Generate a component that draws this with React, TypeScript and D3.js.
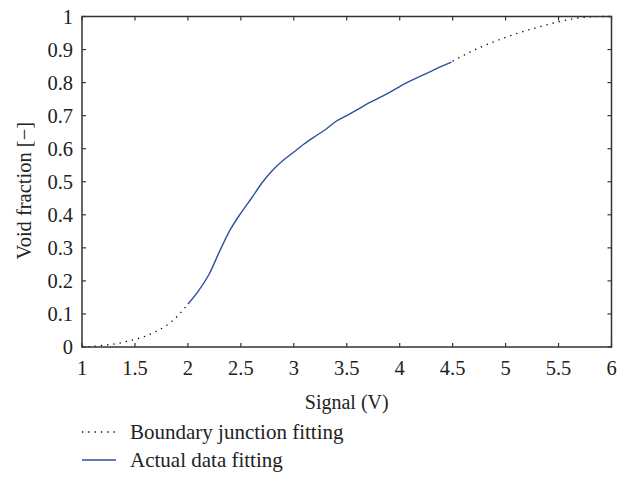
import * as d3 from 'd3';

// boundary junction fitting (dotted), low end and high end
const lowX = [1.0, 1.1, 1.2, 1.3, 1.4, 1.5, 1.6, 1.7, 1.8, 1.9, 2.0];
const lowY = [0.0, 0.002, 0.005, 0.009, 0.015, 0.023, 0.033, 0.047, 0.066, 0.093, 0.13];
const highX = [4.5, 4.6, 4.7, 4.8, 4.9, 5.0, 5.1, 5.2, 5.3, 5.4, 5.5, 5.6, 5.7, 5.8, 5.9, 6.0];
const highY = [0.865, 0.882, 0.898, 0.912, 0.925, 0.937, 0.948, 0.958, 0.967, 0.976, 0.984, 0.991, 0.996, 0.999, 1.0, 1.0];

// actual data fitting (blue)
const actX = [2.0, 2.1, 2.2, 2.3, 2.4, 2.5, 2.6, 2.7, 2.8, 2.9, 3.0, 3.1, 3.2, 3.3, 3.4, 3.5, 3.6, 3.7, 3.8, 3.9, 4.0, 4.1, 4.2, 4.3, 4.4, 4.49];
const actY = [0.13, 0.17, 0.22, 0.29, 0.355, 0.405, 0.45, 0.497, 0.535, 0.565, 0.59, 0.615, 0.637, 0.658, 0.683, 0.7, 0.718, 0.737, 0.753, 0.77, 0.788, 0.805, 0.82, 0.835, 0.85, 0.862];

const xTicks = [1, 1.5, 2, 2.5, 3, 3.5, 4, 4.5, 5, 5.5, 6];
const yTicks = [0, 0.1, 0.2, 0.3, 0.4, 0.5, 0.6, 0.7, 0.8, 0.9, 1];

const W = 632, H = 483;
const L = 82, R = 611.5, T = 16.5, B = 347;
const font = 'Liberation Serif, DejaVu Serif, serif';
const axisColor = '#333';
const blue = '#2e4fa3';

export default function App() {
  const x = d3.scaleLinear().domain([1, 6]).range([L, R]);
  const y = d3.scaleLinear().domain([0, 1]).range([B, T]);
  const line = d3.line<[number, number]>().x(d => x(d[0])).y(d => y(d[1])).curve(d3.curveMonotoneX);
  const zip = (a: number[], b: number[]) => a.map((v, i) => [v, b[i]] as [number, number]);
  const tl = 4;
  const txt = { fontFamily: font, fill: '#222' };

  return (
    <svg width={W} height={H} style={{ position: 'absolute', left: 0, top: 0 }}>
      <rect width={W} height={H} fill="white" />
      <path d={line(zip(lowX, lowY)) || ''} fill="none" stroke="#000" strokeWidth={1.3} strokeDasharray="1.3,5" />
      <path d={line(zip(highX, highY)) || ''} fill="none" stroke="#000" strokeWidth={1.3} strokeDasharray="1.3,5" />
      <path d={line(zip(actX, actY)) || ''} fill="none" stroke={blue} strokeWidth={1.4} />

      {/* frame */}
      <rect x={L} y={T} width={R - L} height={B - T} fill="none" stroke={axisColor} strokeWidth={1.5} />
      {xTicks.map(t => (
        <g key={'x' + t}>
          <line x1={x(t)} x2={x(t)} y1={B} y2={B - tl} stroke={axisColor} strokeWidth={1.2} />
          <line x1={x(t)} x2={x(t)} y1={T} y2={T + tl} stroke={axisColor} strokeWidth={1.2} />
          <text x={x(t)} y={B + 28} textAnchor="middle" style={{ ...txt, fontSize: 20.5 }}>{t}</text>
        </g>
      ))}
      {yTicks.map(t => (
        <g key={'y' + t}>
          <line x1={L} x2={L + tl} y1={y(t)} y2={y(t)} stroke={axisColor} strokeWidth={1.2} />
          <line x1={R} x2={R - tl} y1={y(t)} y2={y(t)} stroke={axisColor} strokeWidth={1.2} />
          <text x={73} y={y(t) + 7} textAnchor="end" style={{ ...txt, fontSize: 20.5 }}>{t}</text>
        </g>
      ))}

      <text x={(L + R) / 2} y={409} textAnchor="middle" style={{ ...txt, fontSize: 20 }}>Signal (V)</text>
      <text transform={`translate(31,${(T + B) / 2 + 9}) rotate(-90)`} textAnchor="middle" style={{ ...txt, fontSize: 20.5 }}>Void fraction [−]</text>

      {/* legend */}
      <line x1={82} x2={117} y1={432} y2={432} stroke="#000" strokeWidth={1.3} strokeDasharray="1.3,5" />
      <text x={130} y={439} style={{ ...txt, fontSize: 21 }}>Boundary junction fitting</text>
      <line x1={82} x2={116} y1={460} y2={460} stroke={blue} strokeWidth={1.4} />
      <text x={130} y={467} style={{ ...txt, fontSize: 21 }}>Actual data fitting</text>
    </svg>
  );
}
